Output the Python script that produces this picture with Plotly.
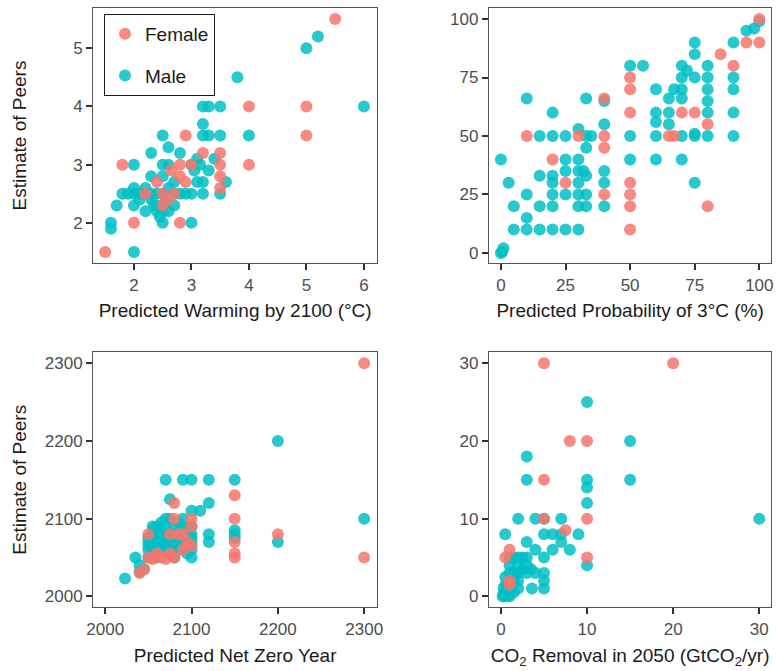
import plotly.graph_objects as go

# ---------------- data ----------------
# Panel 1: Predicted warming by 2100 vs estimate of peers
warm_f_x = [1.5, 1.8, 2.0, 2.4, 2.5, 2.6, 2.65, 2.7, 2.8, 2.8, 2.8, 2.9, 2.9, 3.0, 3.2, 3.5, 3.5, 3.5, 3.5, 4.0, 4.0, 5.0, 5.0, 5.5, 2.2, 2.5]
warm_f_y = [1.5, 3.0, 2.0, 2.7, 2.5, 2.4, 2.9, 2.5, 3.0, 2.8, 2.0, 3.5, 2.7, 3.0, 3.2, 3.2, 3.0, 2.8, 2.6, 4.0, 3.0, 4.0, 3.5, 5.5, 2.5, 2.3]
warm_m_x = [1.6, 1.6, 1.7, 1.8, 1.9, 2.0, 2.0, 2.0, 2.0, 2.0, 2.1, 2.2, 2.2, 2.3, 2.3, 2.3, 2.3, 2.4, 2.4, 2.4,
            2.5, 2.5, 2.5, 2.5, 2.5, 2.5, 2.6, 2.6, 2.6, 2.6, 2.7, 2.7, 2.7, 2.8, 2.8, 2.9, 3.0, 3.0, 3.0, 3.05,
            3.1, 3.1, 3.15, 3.2, 3.2, 3.2, 3.2, 3.2, 3.3, 3.3, 3.3, 3.4, 3.5, 3.5, 3.5, 3.6, 3.8, 4.0, 5.0, 5.2,
            6.0, 2.1, 2.2, 2.35, 2.55, 2.45]
warm_m_y = [2.0, 1.9, 2.3, 2.5, 2.5, 3.0, 2.6, 2.5, 2.3, 1.5, 2.5, 2.5, 2.2, 3.2, 2.8, 2.5, 2.4, 2.3, 2.5, 2.2,
            3.5, 3.0, 2.8, 2.5, 2.2, 2.0, 3.3, 3.0, 2.6, 2.2, 2.7, 2.5, 2.3, 3.2, 2.5, 2.5, 3.0, 2.5, 2.0, 2.9,
            3.1, 2.7, 3.0, 4.0, 3.7, 3.5, 2.7, 2.5, 4.0, 3.5, 2.9, 3.1, 4.0, 3.5, 2.5, 2.7, 4.5, 3.5, 5.0, 5.2,
            4.0, 2.4, 2.6, 2.3, 2.35, 2.1]

# Panel 2: Predicted probability of 3°C vs estimate of peers
prob_f_x = [10, 20, 25, 30, 40, 40, 40, 40, 50, 50, 50, 50, 50, 50, 50, 65, 67, 70, 75, 80, 80, 85, 90, 95, 100, 100]
prob_f_y = [50, 40, 30, 50, 66, 50, 45, 25, 75, 70, 60, 30, 25, 20, 10, 50, 50, 60, 60, 55, 20, 85, 80, 90, 100, 90]
prob_m_x = [0, 1, 0.5, 0, 3, 5, 5, 10, 10, 10, 10, 15, 15, 15, 15, 20, 20, 20, 20, 20, 20, 20,
            25, 25, 25, 25, 25, 30, 30, 30, 30, 30, 30, 30, 33, 33, 33, 33, 33, 33, 35, 32,
            40, 40, 40, 40, 40, 50, 50, 50, 55, 60, 60, 60, 60, 60, 65, 65, 65, 67,
            70, 70, 70, 70, 70, 70, 72, 75, 75, 75, 75, 75, 75, 80, 80, 80, 80, 80, 80,
            90, 90, 90, 90, 90, 95, 98, 100]
prob_m_y = [40, 2, 0.5, 0, 30, 20, 10, 66, 25, 15, 10, 50, 33, 20, 10, 60, 50, 33, 30, 25, 20, 10,
            50, 40, 35, 25, 10, 53, 40, 35, 30, 25, 20, 10, 66, 50, 45, 33, 25, 20, 50, 35,
            65, 55, 35, 30, 20, 80, 50, 40, 80, 70, 60, 56, 50, 40, 66, 60, 55, 70,
            80, 75, 70, 66, 50, 40, 78, 90, 85, 75, 51, 50, 30, 80, 75, 70, 65, 60, 50,
            90, 75, 70, 60, 50, 95, 96, 99]

# Panel 3: Predicted net zero year vs estimate of peers
nz_f_x = [2040, 2045, 2050, 2050, 2055, 2060, 2065, 2070, 2075, 2080, 2080, 2080, 2085, 2090, 2090, 2095,
          2100, 2100, 2100, 2150, 2150, 2150, 2150, 2150, 2200, 2300, 2300, 2075]
nz_f_y = [2030, 2035, 2080, 2050, 2048, 2055, 2050, 2048, 2055, 2050, 2100, 2120, 2080, 2080, 2060, 2070,
          2100, 2065, 2090, 2130, 2100, 2070, 2055, 2050, 2080, 2300, 2050, 2080]
nz_m_x = [2023, 2035, 2040, 2040, 2045, 2050, 2050, 2050, 2050, 2055, 2055, 2055, 2060, 2060, 2060, 2060,
          2065, 2065, 2065, 2070, 2070, 2070, 2070, 2070, 2070, 2075, 2075, 2075, 2075, 2080, 2080, 2080,
          2080, 2080, 2085, 2090, 2090, 2090, 2095, 2100, 2100, 2100, 2100, 2100, 2100, 2100, 2100, 2110,
          2120, 2120, 2120, 2120, 2150, 2150, 2150, 2150, 2200, 2200, 2300,
          2055, 2060, 2065, 2085, 2090, 2095, 2050, 2055, 2085, 2095, 2070, 2090]
nz_m_y = [2023, 2050, 2040, 2032, 2035, 2050, 2060, 2065, 2070, 2055, 2065, 2075, 2060, 2070, 2080, 2050,
          2065, 2075, 2085, 2060, 2070, 2080, 2090, 2100, 2150, 2125, 2070, 2080, 2100, 2050, 2060, 2070,
          2080, 2090, 2075, 2070, 2090, 2150, 2065, 2050, 2060, 2070, 2075, 2080, 2090, 2110, 2150, 2110,
          2150, 2120, 2080, 2070, 2150, 2085, 2080, 2075, 2200, 2070, 2100,
          2085, 2090, 2095, 2095, 2100, 2085, 2075, 2090, 2060, 2055, 2065, 2065]

# Panel 4: CO2 removal in 2050 vs estimate of peers
cdr_f_x = [0.5, 1, 1, 1, 5, 5, 5, 7.5, 8, 10, 10, 10, 20]
cdr_f_y = [5, 6, 2, 1.5, 10, 15, 30, 8.5, 20, 20, 10, 5, 30]
cdr_m_x = [0.2, 0.3, 0.5, 0.5, 0.8, 1, 1, 1, 0.3, 1.5, 2, 0.5, 0.5, 1, 1.5, 2, 1, 2, 3, 1, 1.5, 2, 2.5, 3,
           2, 3, 3.5, 4, 3.6, 5, 5, 5, 5, 0.5, 3, 4, 6, 8, 5, 6, 7, 9, 7, 2, 4, 5, 7, 3, 3,
           10, 10, 10, 10, 10, 15, 15, 30, 1.5, 2.5]
cdr_m_y = [0, 0.3, 0.5, 0, 0.2, 0, 0.5, 1, 1, 0.5, 1, 2.5, 1.5, 3, 3, 3, 4, 4, 4, 5, 5, 5, 5, 5,
           2, 3, 3.5, 3, 1, 1, 2, 3, 5, 8, 7, 6, 6, 6, 8, 8, 8, 8, 7, 10, 10, 10, 10, 15, 18,
           4, 12, 14, 15, 25, 20, 15, 10, 2, 3.5]

panels = [
    (warm_f_x, warm_f_y, warm_m_x, warm_m_y),
    (prob_f_x, prob_f_y, prob_m_x, prob_m_y),
    (nz_f_x, nz_f_y, nz_m_x, nz_m_y),
    (cdr_f_x, cdr_f_y, cdr_m_x, cdr_m_y),
]

x_titles = ["Predicted Warming by 2100 (°C)", "Predicted Probability of 3°C (%)",
            "Predicted Net Zero Year", "CO<sub>2</sub> Removal in 2050 (GtCO<sub>2</sub>/yr)"]
y_title = "Estimate of Peers"

x_ticks = [[2, 3, 4, 5, 6], [0, 25, 50, 75, 100], [2000, 2100, 2200, 2300], [0, 10, 20, 30]]
y_ticks = [[2, 3, 4, 5], [0, 25, 50, 75, 100], [2000, 2100, 2200, 2300], [0, 10, 20, 30]]

# ---------------- style ----------------
FEMALE = "#F8766D"
MALE = "#00BFC4"
FONT = "Liberation Sans, Arial, sans-serif"
W, H = 776, 671

x_domains = [[0.120, 0.486], [0.630, 0.994], [0.120, 0.486], [0.630, 0.994]]
y_domains = [[0.608, 0.988], [0.608, 0.988], [0.095, 0.475], [0.095, 0.475]]
x_ranges = [[1.29, 6.23], [-4.65, 104.65], [1986, 2315], [-1.4, 31.4]]
y_ranges = [[1.31, 5.69], [-4.3, 104.7], [1986, 2314], [-1.4, 31.4]]

fig = go.Figure()

for i, (fx, fy, mx, my) in enumerate(panels):
    xa = "x" if i == 0 else f"x{i+1}"
    ya = "y" if i == 0 else f"y{i+1}"
    fig.add_trace(go.Scatter(
        x=mx, y=my, mode="markers", name="Male", legendgroup="Male", legendrank=2,
        showlegend=(i == 0), xaxis=xa, yaxis=ya,
        marker=dict(color=MALE, size=12, opacity=0.85, line=dict(width=0)),
        hoverinfo="x+y+name"))
    fig.add_trace(go.Scatter(
        x=fx, y=fy, mode="markers", name="Female", legendgroup="Female", legendrank=1,
        showlegend=(i == 0), xaxis=xa, yaxis=ya,
        marker=dict(color=FEMALE, size=12, opacity=0.85, line=dict(width=0)),
        hoverinfo="x+y+name"))

axis_common = dict(
    showline=True, mirror=True, linecolor="#555555", linewidth=1.2,
    showgrid=False, zeroline=False,
    ticks="outside", ticklen=6, tickwidth=2, tickcolor="#333333",
    tickfont=dict(family=FONT, size=17, color="#4D4D4D"),
    automargin=False,
)

layout = dict(
    width=W, height=671, margin=dict(l=0, r=0, t=0, b=0),
    paper_bgcolor="white", plot_bgcolor="white",
    font=dict(family=FONT, color="#1A1A1A"),
    legend=dict(
        x=104 / W, y=1 - 14 / H, xanchor="left", yanchor="top",
        bordercolor="#1A1A1A", borderwidth=1, bgcolor="white",
        font=dict(family=FONT, size=19, color="#1A1A1A"),
        tracegroupgap=14, traceorder="grouped",
    ),
    annotations=[],
)

for i in range(4):
    suffix = "" if i == 0 else str(i + 1)
    layout[f"xaxis{suffix}"] = dict(
        axis_common, domain=x_domains[i], range=x_ranges[i], tickvals=x_ticks[i],
        anchor=f"y{suffix}",
        title=dict(text=x_titles[i], font=dict(family=FONT, size=19, color="#1A1A1A"), standoff=10),
    )
    layout[f"yaxis{suffix}"] = dict(
        axis_common, domain=y_domains[i], range=y_ranges[i], tickvals=y_ticks[i],
        anchor=f"x{suffix}",
    )

for dom in (y_domains[0], y_domains[2]):
    layout["annotations"].append(dict(
        text=y_title, xref="paper", yref="paper", x=20 / W, y=(dom[0] + dom[1]) / 2,
        textangle=-90, showarrow=False, xanchor="center", yanchor="middle",
        font=dict(family=FONT, size=19, color="#1A1A1A"),
    ))

fig.update_layout(**layout)
fig.write_html("out.html")
